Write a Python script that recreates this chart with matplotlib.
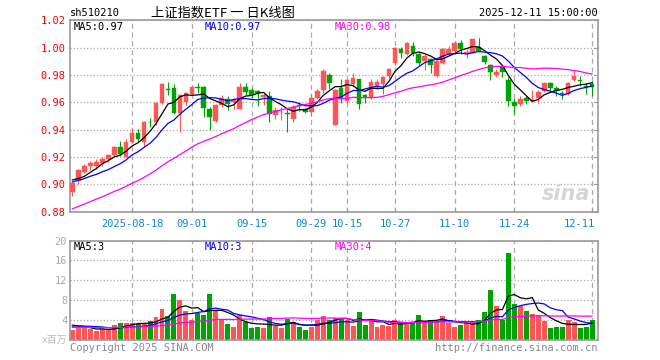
import numpy as np
import pandas as pd
import matplotlib
matplotlib.use('Agg')
import matplotlib.pyplot as plt
from matplotlib.transforms import ScaledTranslation

plt.rcParams['font.family'] = ['DejaVu Sans Mono', 'Noto Sans CJK SC']

# daily bars 2025-08-04 .. 2025-12-11 (88 trading days)
opens = [0.8946, 0.9024, 0.9093, 0.9137, 0.9137, 0.9154, 0.9183, 0.9215, 0.9271, 0.9198,
         0.9312, 0.9378, 0.9312, 0.9459, 0.9454, 0.9598, 0.9692, 0.9702, 0.9522, 0.9605,
         0.9661, 0.9712, 0.9710, 0.9549, 0.9466, 0.9580, 0.9622, 0.9605, 0.9551, 0.9710,
         0.9688, 0.9680, 0.9639, 0.9646, 0.9505, 0.9527, 0.9520, 0.9476, 0.9580, 0.9549,
         0.9529, 0.9629, 0.9690, 0.9798, 0.9434, 0.9702, 0.9610, 0.9732, 0.9768, 0.9651,
         0.9634, 0.9712, 0.9732, 0.9793, 0.9890, 0.9988, 0.9951, 1.0012, 0.9951, 0.9902,
         0.9920, 0.9793, 0.9890, 0.9951, 0.9976, 1.0037, 0.9961, 0.9963, 1.0005, 0.9939,
         0.9871, 0.9800, 0.9859, 0.9761, 0.9605, 0.9585, 0.9629, 0.9610, 0.9634, 0.9683,
         0.9744, 0.9707, 0.9666, 0.9659, 0.9761, 0.9763, 0.9720, 0.9737]
highs = [0.9012, 0.9110, 0.9146, 0.9173, 0.9183, 0.9198, 0.9222, 0.9281, 0.9317, 0.9329,
         0.9410, 0.9402, 0.9462, 0.9488, 0.9605, 0.9739, 0.9751, 0.9732, 0.9661, 0.9678,
         0.9720, 0.9739, 0.9720, 0.9563, 0.9590, 0.9650, 0.9646, 0.9635, 0.9739, 0.9739,
         0.9702, 0.9688, 0.9666, 0.9683, 0.9568, 0.9568, 0.9549, 0.9578, 0.9602, 0.9560,
         0.9659, 0.9695, 0.9841, 0.9817, 0.9695, 0.9768, 0.9773, 0.9817, 0.9773, 0.9659,
         0.9768, 0.9768, 0.9793, 0.9854, 1.0005, 1.0007, 1.0041, 1.0041, 0.9963, 0.9951,
         0.9927, 0.9910, 1.0000, 1.0012, 1.0049, 1.0054, 0.9988, 1.0066, 1.0068, 0.9946,
         0.9883, 0.9841, 0.9866, 0.9785, 0.9629, 0.9646, 0.9646, 0.9688, 0.9688, 0.9749,
         0.9749, 0.9720, 0.9683, 0.9751, 0.9834, 0.9793, 0.9744, 0.9756]
lows = [0.8915, 0.9000, 0.9080, 0.9105, 0.9110, 0.9132, 0.9166, 0.9207, 0.9207, 0.9198,
        0.9305, 0.9312, 0.9276, 0.9422, 0.9434, 0.9590, 0.9654, 0.9517, 0.9385, 0.9580,
        0.9654, 0.9666, 0.9490, 0.9398, 0.9459, 0.9568, 0.9540, 0.9550, 0.9551, 0.9654,
        0.9629, 0.9573, 0.9578, 0.9456, 0.9476, 0.9470, 0.9383, 0.9456, 0.9537, 0.9524,
        0.9500, 0.9622, 0.9671, 0.9695, 0.9432, 0.9598, 0.9598, 0.9720, 0.9549, 0.9598,
        0.9622, 0.9695, 0.9659, 0.9780, 0.9871, 0.9927, 0.9944, 0.9939, 0.9871, 0.9837,
        0.9817, 0.9785, 0.9883, 0.9946, 0.9971, 0.9951, 0.9927, 0.9959, 0.9971, 0.9883,
        0.9761, 0.9785, 0.9785, 0.9573, 0.9517, 0.9573, 0.9585, 0.9602, 0.9598, 0.9678,
        0.9683, 0.9646, 0.9622, 0.9654, 0.9756, 0.9720, 0.9659, 0.9646]
closes = [0.9007, 0.9105, 0.9137, 0.9159, 0.9166, 0.9185, 0.9215, 0.9276, 0.9222, 0.9312,
          0.9378, 0.9332, 0.9459, 0.9455, 0.9598, 0.9734, 0.9690, 0.9524, 0.9654, 0.9671,
          0.9715, 0.9707, 0.9556, 0.9490, 0.9580, 0.9629, 0.9585, 0.9620, 0.9715, 0.9678,
          0.9651, 0.9665, 0.9654, 0.9517, 0.9541, 0.9532, 0.9515, 0.9568, 0.9576, 0.9532,
          0.9634, 0.9683, 0.9829, 0.9739, 0.9688, 0.9634, 0.9763, 0.9780, 0.9585, 0.9639,
          0.9749, 0.9749, 0.9788, 0.9841, 1.0000, 0.9959, 1.0032, 0.9959, 0.9890, 0.9939,
          0.9871, 0.9902, 0.9988, 0.9988, 1.0037, 0.9988, 0.9966, 1.0061, 0.9976, 0.9898,
          0.9824, 0.9824, 0.9824, 0.9610, 0.9573, 0.9622, 0.9610, 0.9620, 0.9678, 0.9744,
          0.9707, 0.9683, 0.9661, 0.9744, 0.9793, 0.9759, 0.9707, 0.9712]
# volume, millions
volumes = [1.9, 2.6, 2.3, 2.1, 1.7, 2.1, 1.9, 2.9, 3.4, 3.4,
           3.3, 3.1, 3.1, 3.75, 4.6, 6.2, 4.8, 9.2, 8.0, 5.8,
           4.0, 5.3, 5.0, 9.2, 6.0, 4.0, 3.1, 2.5, 5.0, 3.5,
           2.3, 2.5, 2.3, 4.6, 2.8, 2.3, 4.2, 3.5, 2.5, 1.9,
           2.5, 4.0, 4.8, 4.0, 4.3, 4.3, 4.0, 2.8, 5.6, 2.9,
           4.0, 2.6, 2.9, 2.8, 4.0, 3.3, 3.3, 3.5, 5.0, 3.3,
           4.0, 3.6, 4.8, 3.3, 2.5, 2.9, 3.3, 3.5, 4.0, 5.6,
           10.0, 6.8, 4.0, 17.6, 7.1, 6.7, 5.8, 5.2, 5.0, 3.8,
           2.4, 2.6, 2.6, 4.0, 3.6, 2.4, 2.6, 4.0]

# days before the window, only used for the moving averages
prev_closes = [0.858, 0.861, 0.860, 0.864, 0.866, 0.865, 0.868, 0.870, 0.869, 0.872,
               0.873, 0.875, 0.872, 0.876, 0.878, 0.880, 0.879, 0.883, 0.886, 0.888,
               0.898, 0.901, 0.899, 0.903, 0.900, 0.905, 0.906, 0.901, 0.903]
prev_volumes = [2.3, 2.1, 2.6, 2.4, 2.2, 2.0, 2.5, 2.3, 2.1, 2.4,
                2.6, 2.2, 2.0, 2.4, 2.7, 2.3, 2.5, 2.2, 2.1, 2.4,
                2.6, 2.4, 2.5, 2.3, 2.9, 3.3, 3.0, 3.2, 3.1]

tick_pos = [10, 20, 30, 40, 46, 54, 64, 74, 87]
tick_labels = ['2025-08-18', '09-01', '09-15', '09-29', '10-15',
               '10-27', '11-10', '11-24', '12-11']

RED = '#ff5555'
GREEN = '#00a400'
GRID = '#aaaaaa'
FRAME = '#999999'
ma_colors = {5: 'black', 10: '#0000ff', 30: '#ff00ff'}


def moving_avg(prev, vals, n):
    s = pd.Series(prev + vals)
    return s.rolling(n).mean().values[len(prev):]


x = np.arange(len(closes))
o = np.array(opens)
c = np.array(closes)
up = c >= o
cols = np.where(up, RED, GREEN)

W, H = 660, 360
fig = plt.figure(figsize=(6.6, 3.6), dpi=100)


def box(l, t, r, b):
    return [l / W, 1 - b / H, (r - l) / W, (b - t) / H]


def ftext(px, py, s, **kw):
    fig.text(px / W, 1 - py / H, s, va='center', **kw)


ax = fig.add_axes(box(70, 20.3, 598, 211.6))
axv = fig.add_axes(box(70, 240.7, 598, 339.5))

for a in (ax, axv):
    a.set_xlim(-0.4, 88.0)
    a.set_axisbelow(True)
    for sp in a.spines.values():
        sp.set_color(FRAME)
        sp.set_linewidth(1.2)
    for t in tick_pos:
        a.axvline(t, color=GRID, lw=0.9, ls=(0, (4, 3)), zorder=0)

# candles
ax.vlines(x, lows, highs, colors=cols, lw=0.8, zorder=2)
body_lo = np.minimum(o, c)
body_h = np.maximum(np.abs(c - o), 0.0004)
ax.bar(x, body_h, bottom=body_lo, width=0.78, color=cols, edgecolor=cols,
       lw=0.3, zorder=3)
for n in (5, 10, 30):
    ax.plot(x, moving_avg(prev_closes, closes, n), color=ma_colors[n], lw=0.9, zorder=4)

ax.set_ylim(0.88, 1.02)
yt = [0.88, 0.90, 0.92, 0.94, 0.96, 0.98, 1.00, 1.02]
ax.set_yticks(yt, ['%.2f' % v for v in yt])
ax.yaxis.grid(True, color=GRID, ls=':', lw=0.9)
ax.tick_params(axis='y', left=False, right=True, direction='in', length=3,
               color=FRAME, labelcolor='#ff0000', labelsize=7.5, pad=3)
ax.set_xticks(tick_pos, tick_labels)
ax.tick_params(axis='x', direction='in', length=3, color=FRAME,
               labelcolor='#0b86d6', labelsize=7.5, pad=5)
ax.get_xticklabels()[-1].set_horizontalalignment('right')
ax.get_xticklabels()[-1].set_transform(
    ax.get_xticklabels()[-1].get_transform() + ScaledTranslation(0.03, 0, fig.dpi_scale_trans))

ax.text(0.985, 0.04, 'sina', transform=ax.transAxes, ha='right', va='bottom',
        fontsize=15, color='#d6d6d6', style='italic', weight='bold',
        family='DejaVu Sans', zorder=1)

# volume
axv.bar(x, volumes, width=0.83, color=cols, lw=0, zorder=2)
vma = {}
for n in (5, 10, 30):
    vma[n] = moving_avg(prev_volumes, volumes, n)
    axv.plot(x, vma[n], color=ma_colors[n], lw=0.9, zorder=4)
axv.set_ylim(0, 20)
axv.set_yticks([4, 8, 12, 16, 20])
axv.yaxis.grid(True, color=GRID, ls=':', lw=0.9)
axv.tick_params(axis='y', left=False, direction='in', length=0,
                labelcolor='#aaaaaa', labelsize=7.5, pad=2)
axv.set_xticks([])

# header texts
ftext(70, 13, 'sh510210', fontsize=7.5, color='black')
ftext(223, 13, '上证指数ETF 一 日K线图', fontsize=9.5, color='black', ha='center',
      family=['Noto Sans CJK SC', 'DejaVu Sans'])
ftext(598, 13, '2025-12-11 15:00:00', fontsize=7.5, color='black', ha='right')

last = len(closes) - 1
pm = {n: moving_avg(prev_closes, closes, n)[last] for n in (5, 10, 30)}
ftext(74, 27, 'MA5:%.2f' % pm[5], fontsize=7.5, color=ma_colors[5])
ftext(205, 27, 'MA10:%.2f' % pm[10], fontsize=7.5, color=ma_colors[10])
ftext(335, 27, 'MA30:%.2f' % pm[30], fontsize=7.5, color=ma_colors[30])

ftext(74, 247, 'MA5:%d' % vma[5][last], fontsize=7.5, color=ma_colors[5])
ftext(205, 247, 'MA10:%d' % vma[10][last], fontsize=7.5, color=ma_colors[10])
ftext(335, 247, 'MA30:%d' % vma[30][last], fontsize=7.5, color=ma_colors[30])

ftext(67, 340, 'x百万', fontsize=7, color='#bbbbbb', ha='right',
      family=['DejaVu Sans Mono', 'Noto Sans CJK SC'])
ftext(70, 348, 'Copyright 2025 SINA.COM', fontsize=7.5, color='#888888')
ftext(598, 348, 'http://finance.sina.com.cn', fontsize=7.5, color='#888888', ha='right')

fig.savefig('out.png', dpi=100, facecolor='white')
